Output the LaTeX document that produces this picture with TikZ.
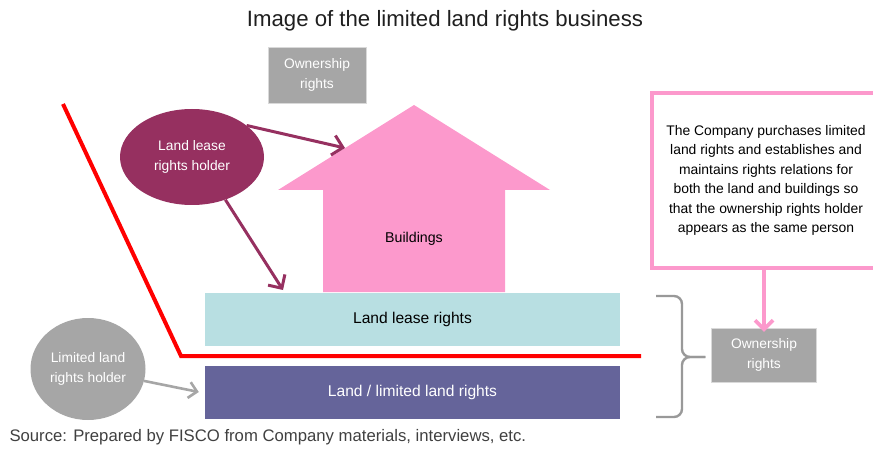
\documentclass[tikz,border=0pt]{standalone}
\usepackage{fontspec}
\setmainfont{Liberation Sans}
\usepackage{tikz}
\usetikzlibrary{arrows.meta,shapes.geometric}
\usepackage{xcolor}

\definecolor{greybox}{RGB}{166,166,166}
\definecolor{plum}{RGB}{150,48,96}
\definecolor{housepink}{RGB}{252,153,204}
\definecolor{leaseblue}{RGB}{184,223,226}
\definecolor{landblue}{RGB}{101,100,154}
\definecolor{bracegrey}{RGB}{153,153,153}

\newcommand{\lbl}{\fontsize{13.8}{20}\selectfont}
\newcommand{\biglbl}{\fontsize{15.6}{20}\selectfont}

\begin{document}
\begin{tikzpicture}[x=1pt,y=-1pt,
  greyrect/.style={fill=greybox,draw=white!85!black,text=white,align=center,font=\lbl},
  holder/.style={ellipse,align=center,font=\lbl,text=white,inner sep=0pt},
  layer/.style={minimum width=415pt,minimum height=53pt,font=\biglbl},
  arr/.style={line width=3pt,-{Straight Barb[length=10pt,width=20pt,line width=3pt]}}]
\useasboundingbox (0,0) rectangle (873,449);

\node[font=\fontsize{22.2}{26}\selectfont,text=black!88] (title) at (445,21){Image of the limited land rights business};

% the two layers under the house
\node[layer,fill=leaseblue] (lease) at (412.5,319){\raisebox{-2pt}{Land lease rights}};
\node[layer,fill=landblue,text=white] (land) at (412.5,392){\raisebox{-3pt}{Land / limited land rights}};

% house outline
\fill[housepink] (278,190) -- (414,105) -- (550,190) -- (505,190) -- (505,292)
  -- (323,292) -- (323,190) -- cycle;
\node[font=\fontsize{14.2}{20}\selectfont] (bldg) at (414,239){Buildings};
\coordinate (roof) at (345,148);
\coordinate (leasetop) at (283,290);

\node[greyrect,minimum width=98pt,minimum height=56pt] (owntop) at (317,75){Ownership\\rights};

% holders
\node[holder,fill=plum,minimum width=144pt,minimum height=96pt] (lh) at (192,157){Land lease\\rights holder};
\node[holder,fill=greybox,minimum width=115pt,minimum height=102pt] (llh) at (88,369){Limited land\\rights holder};

\draw[arr,plum] (lh.30) -- (roof);
\draw[arr,plum] (lh.-52) -- (leasetop);
\draw[greybox,line width=2.6pt,-{Straight Barb[length=8pt,width=16pt,line width=2.6pt]}] (llh.-12) -- ([xshift=-6pt]land.west);

% boundary line
\draw[red,line width=4pt] (63,104) -- (181,356) -- (641,356);

% right hand side
\node[draw=housepink,line width=3.6pt,minimum width=228pt,minimum height=175pt,align=center,
  font=\fontsize{13.9}{19.5}\selectfont] (note) at (766,180.5){The Company purchases limited\\land rights and establishes and\\maintains rights relations for\\both the land and buildings so\\that the ownership rights holder\\appears as the same person};
\node[greyrect,minimum width=105pt,minimum height=54pt] (ownr) at (764,355){Ownership\\rights};
\draw[line width=3.6pt,housepink,-{Straight Barb[length=9pt,width=18pt,line width=3.6pt]}] (note.south -| ownr.north) -- ([yshift=-4pt]ownr.north);

\draw[bracegrey,line width=2.4pt,rounded corners=8pt] (656,296) -- (682,296) -- (682,357) -- ([xshift=-6pt]ownr.west |- 0,357);
\draw[bracegrey,line width=2.4pt,rounded corners=8pt] (656,417) -- (682,417) -- (682,357) -- ([xshift=-6pt]ownr.west |- 0,357);

\node[anchor=west,text=black!75,font=\fontsize{16.7}{19}\selectfont] (src) at (6,437){Source: Prepared by FISCO from Company materials, interviews, etc.};
\end{tikzpicture}
\end{document}
